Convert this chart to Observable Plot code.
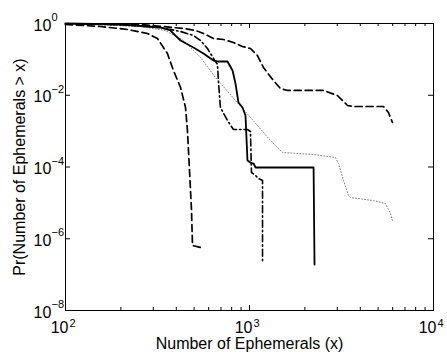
<!DOCTYPE html>
<html><head><meta charset="utf-8">
<script src="https://cdn.jsdelivr.net/npm/d3@7"></script>
<script src="https://cdn.jsdelivr.net/npm/@observablehq/plot@0.6"></script>
<style>html,body{margin:0;padding:0;background:#fff}</style>
</head><body><div id="chart"></div>
<script>
// ---- data ----
const xLabel = "Number of Ephemerals (x)";
const yLabel = "Pr(Number of Ephemerals > x)";

const xMajorTicks = [100, 1000, 10000];
const xMinorTicks = [200, 300, 400, 500, 600, 700, 800, 900, 2000, 3000, 4000, 5000, 6000, 7000, 8000, 9000];
const xTickBase = ["10", "10", "10"];
const xTickExp = ["2", "3", "4"];
const yTicks = [1, 1e-2, 1e-4, 1e-6, 1e-8];
const yTickBase = ["10", "10", "10", "10", "10"];
const yTickExp = ["0", "\u22122", "\u22124", "\u22126", "\u22128"];

// dashed curve (steep, leftmost)
const dashedAx = [100, 155, 217, 279, 316, 358, 386, 422, 449, 460, 472, 484, 490, 542];
const dashedAy = [0.94, 0.825, 0.681, 0.526, 0.382, 0.146, 0.049, 0.0164, 0.00456, 0.00104, 0.0000798, 0.00000613, 6.49e-7, 5.7e-7];

// dashed curve (long tail, top right)
const dashedBx = [100, 256, 438, 509, 562, 637, 723, 818, 916, 1012, 1105, 1191, 1349, 1472, 1610, 2523, 3004, 3409, 3675, 5349, 5689, 5984];
const dashedBy = [0.98, 0.938, 0.726, 0.638, 0.526, 0.382, 0.358, 0.295, 0.229, 0.201, 0.128, 0.0594, 0.0258, 0.0154, 0.0136, 0.0136, 0.00984, 0.00518, 0.00486, 0.00486, 0.0033, 0.00174];

// dash-dot curve
const dashDotx = [100, 199, 328, 422, 496, 542, 591, 637, 670, 679, 695, 759, 818, 975, 1012, 1025, 1079, 1119, 1177, 1177];
const dashDoty = [0.98, 0.938, 0.774, 0.598, 0.463, 0.336, 0.201, 0.106, 0.072, 0.0213, 0.00456, 0.00198, 0.00111, 0.00111, 0.000977, 0.0000703, 0.0000579, 0.0000478, 0.000042, 2.04e-7];

// solid curve
const solidx = [100, 199, 328, 372, 386, 422, 496, 562, 637, 670, 759, 809, 839, 871, 916, 951, 975, 1012, 1052, 1079, 2230, 2256];
const solidy = [1, 0.938, 0.774, 0.638, 0.526, 0.336, 0.214, 0.146, 0.093, 0.0873, 0.0873, 0.049, 0.0213, 0.00628, 0.00456, 0.00273, 0.000152, 0.000133, 0.000125, 0.0000968, 0.0000968, 1.91e-7];

// dotted curve
const dottedx = [100, 256, 349, 438, 542, 653, 839, 1012, 1300, 1510, 2230, 2933, 3046, 3243, 3452, 3540, 4718, 5483, 5834, 5984];
const dottedy = [1, 0.825, 0.638, 0.336, 0.113, 0.0313, 0.00714, 0.0024, 0.000548, 0.000254, 0.000223, 0.000184, 0.000125, 0.000042, 0.0000161, 0.0000141, 0.0000116, 0.0000096, 0.00000506, 0.00000323];

// ---- build tables ----
const rows = (xs, ys) => xs.map((x, i) => ({x, y: ys[i]}));
const A = rows(dashedAx, dashedAy);
const B = rows(dashedBx, dashedBy);
const C = rows(dashDotx, dashDoty);
const D = rows(solidx, solidy);
const E = rows(dottedx, dottedy);
const xLab = xMajorTicks.map((v, i) => ({v, base: xTickBase[i], exp: xTickExp[i]}));
const yLab = yTicks.map((v, i) => ({v, base: yTickBase[i], exp: yTickExp[i]}));

const W = 447, H = 352, mL = 65, mR = 14, mT = 23, mB = 42;
const pw = W - mL - mR, ph = H - mT - mB;
const font = "'Liberation Sans', Arial, Helvetica, sans-serif";

const chart = Plot.plot({
  width: W, height: H,
  marginLeft: mL, marginRight: mR, marginTop: mT, marginBottom: mB,
  style: {fontFamily: font, background: "#fff", color: "#000"},
  x: {type: "log", domain: [100, 10000], axis: null},
  y: {type: "log", domain: [1e-8, 1], axis: null},
  marks: [
    Plot.line(E, {x: "x", y: "y", stroke: "#808080", strokeWidth: 1, strokeDasharray: "1,2"}),
    Plot.line(A, {x: "x", y: "y", stroke: "#000", strokeWidth: 1.7, strokeDasharray: "7,4"}),
    Plot.line(B, {x: "x", y: "y", stroke: "#000", strokeWidth: 1.7, strokeDasharray: "7,4"}),
    Plot.line(C, {x: "x", y: "y", stroke: "#000", strokeWidth: 1.6, strokeDasharray: "7,3,1.5,3"}),
    Plot.line(D, {x: "x", y: "y", stroke: "#000", strokeWidth: 1.8}),
    // ticks (inward, on all four sides)
    Plot.tickX(xMajorTicks, {x: d => d, stroke: "#000", insetTop: ph - 5}),
    Plot.tickX(xMajorTicks, {x: d => d, stroke: "#000", insetBottom: ph - 5}),
    Plot.tickX(xMinorTicks, {x: d => d, stroke: "#000", insetTop: ph - 3}),
    Plot.tickX(xMinorTicks, {x: d => d, stroke: "#000", insetBottom: ph - 3}),
    Plot.tickY(yTicks, {y: d => d, stroke: "#000", insetRight: pw - 5}),
    Plot.tickY(yTicks, {y: d => d, stroke: "#000", insetLeft: pw - 5}),
    Plot.frame({stroke: "#000", strokeWidth: 1}),
    // tick labels
    Plot.text(xLab, {x: "v", text: "base", frameAnchor: "bottom", textAnchor: "end", lineAnchor: "bottom", dx: 3, dy: 22, fontSize: 16, fill: "#000"}),
    Plot.text(xLab, {x: "v", text: "exp", frameAnchor: "bottom", textAnchor: "start", lineAnchor: "bottom", dx: 4, dy: 16, fontSize: 11, fill: "#000"}),
    Plot.text(yLab, {y: "v", text: "base", frameAnchor: "left", textAnchor: "start", lineAnchor: "bottom", dx: -32, dy: 7, fontSize: 16, fill: "#000"}),
    Plot.text(yLab, {y: "v", text: "exp", frameAnchor: "left", textAnchor: "start", lineAnchor: "bottom", dx: -14, dy: -2.5, fontSize: 11, fill: "#000"}),
    // axis labels
    Plot.text([xLabel], {text: d => d, frameAnchor: "bottom", textAnchor: "middle", lineAnchor: "bottom", dy: 38, fontSize: 16, fill: "#000"}),
    Plot.text([yLabel], {text: d => d, frameAnchor: "left", rotate: -90, textAnchor: "middle", lineAnchor: "bottom", dx: -41, fontSize: 16, fill: "#000"})
  ]
});
document.getElementById("chart").appendChild(chart);
</script>
</body></html>
